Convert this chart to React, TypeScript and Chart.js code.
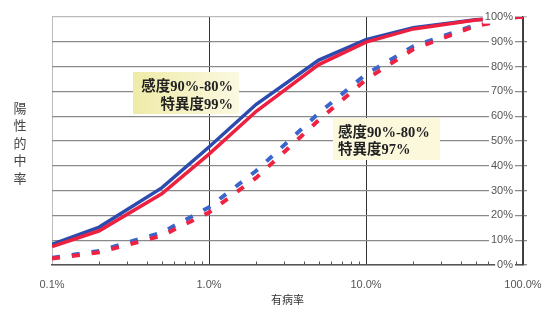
import React, { useEffect, useRef } from "react";
import { Chart, registerables } from "chart.js";

Chart.register(...registerables);

// prevalence (%)
const prevalence = [0.1, 0.2, 0.5, 1, 2, 5, 10, 20, 50, 100];
// positive predictive value (%)
const ppvSens90Spec99 = [8.3, 15.3, 31.1, 47.6, 64.8, 82.6, 90.9, 95.7, 98.9, 100];
const ppvSens80Spec99 = [7.4, 13.8, 28.7, 44.7, 62.0, 80.8, 89.9, 95.2, 98.8, 100];
const ppvSens90Spec97 = [2.9, 5.7, 13.1, 23.3, 38.0, 61.2, 76.9, 88.2, 96.8, 100];
const ppvSens80Spec97 = [2.6, 5.1, 11.8, 21.2, 35.2, 58.4, 74.8, 87.0, 96.4, 100];

const minorTicks = [0.2, 0.3, 0.4, 0.5, 0.6, 0.7, 0.8, 0.9, 2, 3, 4, 5, 6, 7, 8, 9, 20, 30, 40, 50, 60, 70, 80, 90];
const yTitle = ["陽", "性", "的", "中", "率"];
const xTitle = "有病率";
const note1 = ["感度90%-80%", "特異度99%"];
const note2 = ["感度90%-80%", "特異度97%"];

const isDecade = (v: number) => Math.abs(Math.log10(v) - Math.round(Math.log10(v))) < 1e-6;

const pts = (ys: number[]) => prevalence.map((x, i) => ({ x, y: ys[i] }));

const extras = {
  id: "extras",
  beforeDraw(chart: any) {
    const { ctx } = chart;
    ctx.save();
    ctx.fillStyle = "#ffffff";
    ctx.fillRect(0, 0, chart.width, chart.height);
    ctx.restore();
  },
  afterDatasetsDraw(chart: any) {
    const { ctx, chartArea } = chart;
    const xs = chart.scales.x;
    ctx.save();
    // minor ticks
    ctx.strokeStyle = "#555";
    ctx.lineWidth = 1;
    minorTicks.forEach((v) => {
      const px = Math.round(xs.getPixelForValue(v)) + 0.5;
      ctx.beginPath();
      ctx.moveTo(px, chartArea.bottom);
      ctx.lineTo(px, chartArea.bottom - 3.5);
      ctx.stroke();
    });
    // left title
    ctx.fillStyle = "#444";
    ctx.font = '13px "Noto Sans CJK JP"';
    ctx.textAlign = "center";
    ctx.textBaseline = "middle";
    yTitle.forEach((c, i) => ctx.fillText(c, 20, 108 + i * 17.5));

    // note boxes
    const g = ctx.createLinearGradient(133, 0, 240, 0);
    g.addColorStop(0, "#efeba8");
    g.addColorStop(1, "#fbf9e2");
    ctx.fillStyle = g;
    ctx.fillRect(133, 72, 106, 42);
    ctx.fillStyle = "#fbf8dc";
    ctx.fillRect(333, 118, 107, 42);

    ctx.fillStyle = "#222";
    ctx.font = 'bold 14.5px "Liberation Serif", "Noto Sans CJK JP"';
    ctx.textBaseline = "middle";
    ctx.textAlign = "right";
    ctx.fillText(note1[0], 233, 87);
    ctx.fillText(note1[1], 233, 105);
    ctx.textAlign = "left";
    ctx.fillText(note2[0], 338, 133);
    ctx.fillText(note2[1], 338, 150);
    ctx.restore();
  },
};

export default function App() {
  const ref = useRef<HTMLCanvasElement>(null);
  useEffect(() => {
    if (!ref.current) return;
    const chart = new Chart(ref.current, {
      type: "line",
      data: {
        datasets: [
          { data: pts(ppvSens80Spec97), borderColor: "#ee2242", borderWidth: 4, borderDash: [8, 12], pointRadius: 0, tension: 0 },
          { data: pts(ppvSens90Spec97), borderColor: "#3a66cc", borderWidth: 4, borderDash: [8, 12], pointRadius: 0, tension: 0 },
          { data: pts(ppvSens80Spec99), borderColor: "#ee2040", borderWidth: 3.5, pointRadius: 0, tension: 0 },
          { data: pts(ppvSens90Spec99), borderColor: "#2b4cae", borderWidth: 3.5, pointRadius: 0, tension: 0 },
        ],
      },
      options: {
        responsive: false,
        animation: false,
        layout: { padding: { left: 52, top: 17, right: 0, bottom: 0 } },
        plugins: { legend: { display: false }, tooltip: { enabled: false } },
        scales: {
          x: {
            type: "logarithmic",
            min: 0.1,
            max: 100,
            afterFit: (s: any) => {
              s.height = 46;
              s.paddingLeft = 0;
              s.paddingRight = 0;
            },
            grid: {
              drawTicks: false,
              color: (c: any) => {
                const v = c.tick && c.tick.value;
                if (v == null || !isDecade(v)) return "rgba(0,0,0,0)";
                if (Math.abs(v - 0.1) < 1e-9) return "#bbbbbb";
                return "#333333";
              },
              lineWidth: 1,
            },
            border: { display: true, color: "#555", width: 1.5 },
            ticks: {
              autoSkip: false,
              maxRotation: 0,
              padding: 13,
              color: "#555",
              font: { family: '"Liberation Sans", Arial', size: 11 },
              callback: (v: any) => (isDecade(Number(v)) ? Number(v).toFixed(1) + "%" : ""),
            },
            title: {
              display: true,
              text: xTitle,
              color: "#333",
              font: { family: '"Noto Sans CJK JP"', size: 11 },
              padding: { top: 0, bottom: 5 },
            },
          },
          y: {
            position: "right",
            min: 0,
            max: 100,
            afterFit: (s: any) => {
              s.width = 19;
              s.paddingTop = 0;
              s.paddingBottom = 0;
            },
            grid: {
              tickLength: 4,
              color: (c: any) => (c.tick && c.tick.value === 100 ? "#bbbbbb" : "#8a8a8a"),
              lineWidth: 1.3,
            },
            border: { display: true, color: "#444", width: 1.5 },
            ticks: {
              stepSize: 10,
              mirror: true,
              padding: -10,
              z: 1,
              color: "#555",
              font: { family: '"Liberation Sans", Arial', size: 11 },
              showLabelBackdrop: true,
              backdropColor: "#ffffff",
              backdropPadding: { left: 2, right: 2, top: 0, bottom: 0 },
              callback: (v: any) => v + "%",
            },
          },
        },
      },
      plugins: [extras],
    } as any);
    return () => chart.destroy();
  }, []);
  return (
    <div style={{ position: "fixed", left: 0, top: 0, width: 542, height: 311 }}>
      <canvas ref={ref} width={542} height={311} />
    </div>
  );
}
